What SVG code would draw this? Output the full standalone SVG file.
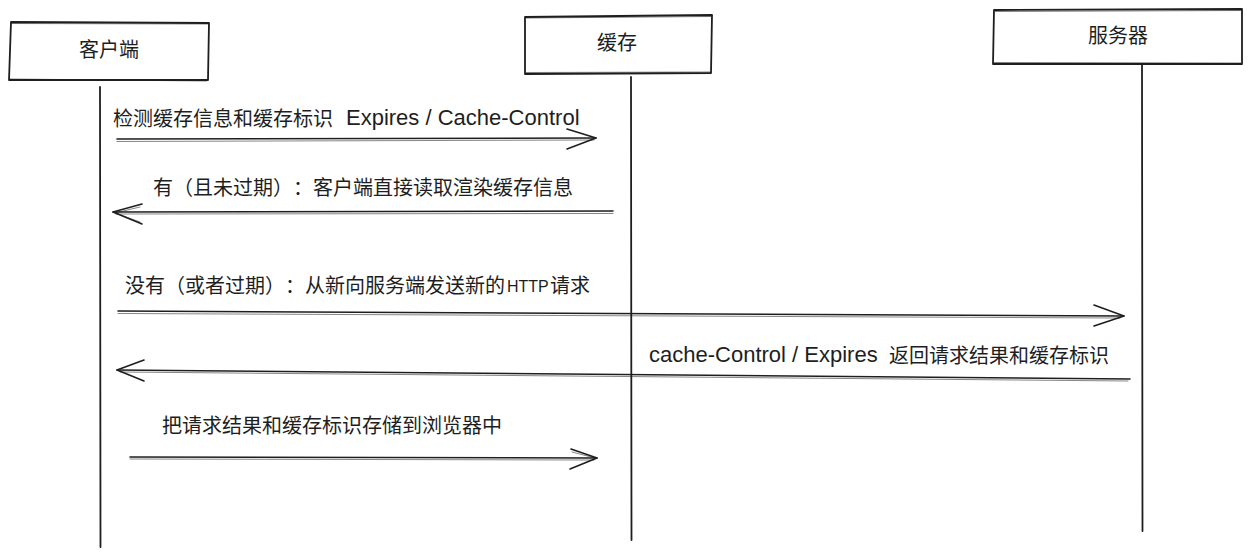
<svg xmlns="http://www.w3.org/2000/svg" width="1251" height="555" viewBox="0 0 1251 555">
<style>
.box{fill:#ffffff;stroke:#1e1e1e;stroke-width:1.8;stroke-linejoin:round}
.box2{fill:none;stroke:#1e1e1e;stroke-width:0.8;opacity:0.7}
.life{fill:none;stroke:#1e1e1e;stroke-width:1.8;stroke-linecap:round}
.msg{fill:none;stroke:#1e1e1e;stroke-width:1.6;stroke-linecap:round;stroke-linejoin:round}
.msg2{fill:none;stroke:#1e1e1e;stroke-width:0.9;stroke-linecap:round;opacity:0.6}
.cjk{font-family:"Noto Sans CJK SC","Noto Sans",sans-serif;font-size:20px;fill:#1e1e1e;text-spacing-trim:space-all;font-feature-settings:"chws" 0,"halt" 0}
.lat{font-family:"Liberation Sans","DejaVu Sans",sans-serif;font-size:22px}
.lbl{font-family:"Noto Sans CJK SC","Noto Sans",sans-serif;font-size:20px;fill:#1e1e1e;text-anchor:middle}
</style>
<rect width="1251" height="555" fill="#ffffff"/>
<g id="connectors">
  <path class="life" d="M100 87 L100.5 547"/>
  <path class="life" d="M631 77 L631.5 540"/>
  <path class="life" d="M1142 64 L1142.5 531"/>
  <path class="msg" d="M117 139 L596 138"/>
  <path class="msg2" d="M117 141.5 L594 140"/>
  <path class="msg" d="M567 129 L596 138 L567 149"/>
  <path class="msg" d="M613 211 L113 212"/>
  <path class="msg2" d="M613 213.5 L116 214"/>
  <path class="msg" d="M142 204 L113 212 L142 224"/>
  <path class="msg2" d="M140 207 L115 213 L140 222"/>
  <path class="msg" d="M118 311 L1124 316"/>
  <path class="msg2" d="M118 313.5 L1120 318"/>
  <path class="msg" d="M1094 305 L1124 316 L1094 326"/>
  <path class="msg" d="M1130 379 L117 370"/>
  <path class="msg2" d="M1128 381 L120 372"/>
  <path class="msg" d="M144 360 L117 370 L144 381"/>
  <path class="msg" d="M130 457 L597 458"/>
  <path class="msg2" d="M130 459 L594 460"/>
  <path class="msg" d="M571 449 L597 458 L570 469"/>
  <path class="msg2" d="M572 452 L595 458"/>
</g>
<g id="node-client">
  <path class="box" d="M11 22 L209 23 L208 80 L9 80 Z"/>
  <path class="box2" d="M10 23.5 L208 24 M9 79 L207 81"/>
  <text class="lbl" x="109" y="57">客户端</text>
</g>
<g id="node-cache">
  <path class="box" d="M525 17 L712 15 L711 73 L525 74 Z"/>
  <path class="box2" d="M526 18 L711 16.5 M526 72.5 L710 72"/>
  <text class="lbl" x="617" y="50">缓存</text>
</g>
<g id="node-server">
  <path class="box" d="M994 10 L1242 9 L1242 64 L993 64 Z"/>
  <path class="box2" d="M995 11.5 L1241 10.5 M994 62.5 L1241 63"/>
  <text class="lbl" x="1118" y="43">服务器</text>
</g>
<g id="labels">
  <text class="cjk" x="113" y="126">检测缓存信息和缓存标识 <tspan class="lat" x="346" y="125">Expires / Cache-Control</tspan></text>
  <text class="cjk" x="153" y="195" textLength="420" lengthAdjust="spacing">有（且未过期）：客户端直接读取渲染缓存信息</text>
  <text class="cjk" x="125" y="293"><tspan>没有（或者过期）：从新向服务端发送新的</tspan><tspan class="lat" x="507" y="292" style="font-size:16px">HTTP</tspan><tspan x="550" y="293">请求</tspan></text>
  <text class="cjk" x="649" y="362"><tspan class="lat">cache-Control / Expires</tspan><tspan x="889" y="363">返回请求结果和缓存标识</tspan></text>
  <text class="cjk" x="162" y="433">把请求结果和缓存标识存储到浏览器中</text>
</g>
</svg>
